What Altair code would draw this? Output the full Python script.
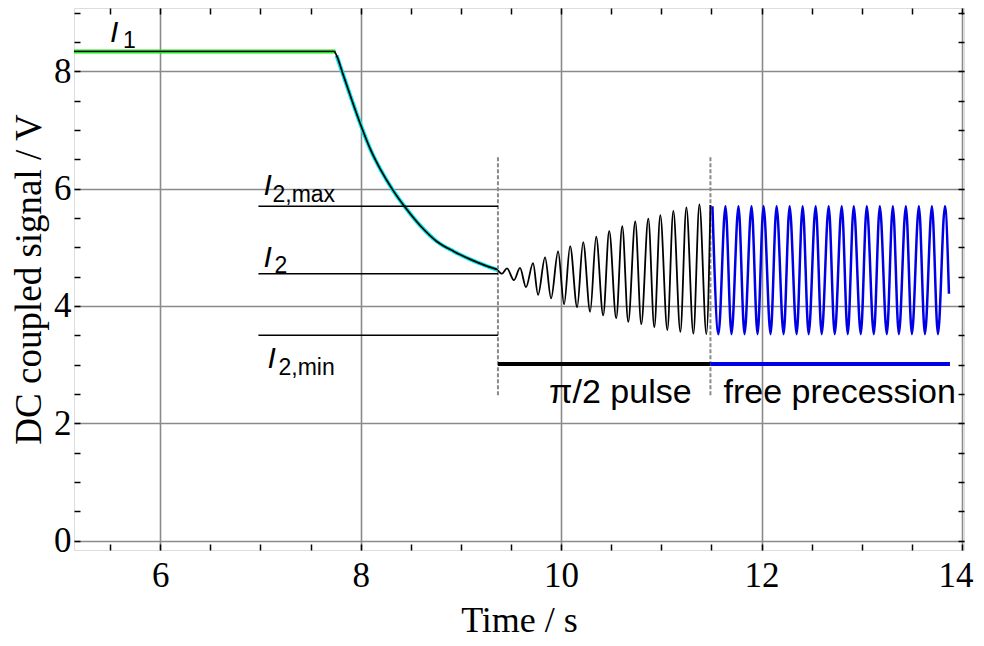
import altair as alt
import pandas as pd

# ---------------- data ----------------
# I1 plateau (black trace + green fit)
plateau_t = [5.14, 7.74]
plateau_v = [8.34, 8.34]
green_t = [5.14, 7.75]
green_v = [8.34, 8.34]

# exponential relaxation (black trace) and its cyan fit
decay_t = [7.74, 7.77, 7.82, 7.90, 8.00, 8.10, 8.20, 8.32, 8.45, 8.60, 8.76, 8.93, 9.10, 9.26, 9.37]
decay_v = [8.34, 8.23, 7.97, 7.57, 7.09, 6.66, 6.32, 5.98, 5.67, 5.36, 5.10, 4.93, 4.79, 4.68, 4.62]
fit_t = [7.76, 7.82, 7.90, 8.00, 8.10, 8.20, 8.32, 8.45, 8.60, 8.76, 8.93, 9.10, 9.26, 9.37]
fit_v = [8.27, 7.97, 7.57, 7.09, 6.66, 6.32, 5.98, 5.67, 5.36, 5.10, 4.93, 4.79, 4.68, 4.61]

# pi/2 pulse: extrema of the growing oscillation
pulse_t = [9.37, 9.41, 9.46, 9.53, 9.59, 9.65, 9.72, 9.77, 9.84, 9.90, 9.97, 10.03, 10.09,
           10.16, 10.22, 10.29, 10.35, 10.42, 10.48, 10.55, 10.61, 10.67, 10.74, 10.80,
           10.87, 10.93, 10.99, 11.06, 11.12, 11.19, 11.25, 11.32, 11.38, 11.45, 11.49]
pulse_v = [4.61, 4.55, 4.64, 4.44, 4.65, 4.32, 4.73, 4.19, 4.83, 4.13, 4.93, 4.03, 5.02,
           3.98, 5.09, 3.90, 5.18, 3.84, 5.28, 3.79, 5.36, 3.73, 5.44, 3.69, 5.49,
           3.64, 5.55, 3.59, 5.62, 3.56, 5.68, 3.53, 5.73, 3.52, 5.72]

# free precession: peaks and troughs
prec_peak_t = [11.51, 11.64, 11.77, 11.90, 12.02, 12.15, 12.28, 12.41, 12.54, 12.67,
               12.80, 12.92, 13.05, 13.18, 13.31, 13.44, 13.57, 13.70, 13.83]
prec_peak_v = [5.70] * 19
prec_trough_t = [11.57, 11.70, 11.83, 11.96, 12.09, 12.22, 12.35, 12.47, 12.60, 12.73,
                 12.86, 12.99, 13.12, 13.25, 13.37, 13.50, 13.63, 13.76]
prec_trough_v = [3.52] * 18
prec_end_t = 13.87
prec_end_v = 4.21

# reference levels I2,max / I2 / I2,min
level_v = [5.70, 4.55, 3.50]
level_start = 6.98
level_end = 9.37

# phase markers
marker_t = [9.37, 11.49]
marker_lo = 2.48
marker_hi = 6.54
phase_v = 3.01
pulse_bar_t = [9.37, 11.49]
prec_bar_t = [11.49, 13.88]

# annotation labels
main_lbl_text = ["I", "I", "I", "I"]
main_lbl_t = [5.50, 7.03, 7.03, 7.07]
main_lbl_v = [8.50, 5.89, 4.67, 2.94]
sub_lbl_text = ["1", "2,max", "2", "2,min"]
sub_lbl_t = [5.63, 7.12, 7.14, 7.18]
sub_lbl_v = [8.40, 5.78, 4.56, 2.82]
phase_text = ["π/2 pulse", "free precession"]
phase_text_t = [9.88, 11.62]
phase_text_v = [2.34, 2.34]

# axes
x_ticks = [6, 8, 10, 12, 14]
y_ticks = [0, 2, 4, 6, 8]
x_minor = [5.5 + 0.5 * i for i in range(18)]
y_minor = [0.5 * i for i in range(19)]
x_domain = [5.14, 14.02]
y_domain = [-0.16, 9.08]

# ---------------- tables ----------------
df_plateau = pd.DataFrame({"t": plateau_t, "v": plateau_v})
df_green = pd.DataFrame({"t": green_t, "v": green_v})
df_decay = pd.DataFrame({"t": decay_t, "v": decay_v})
df_fit = pd.DataFrame({"t": fit_t, "v": fit_v})
df_pulse = pd.DataFrame({"t": pulse_t, "v": pulse_v})
pts = sorted(list(zip(prec_peak_t, prec_peak_v)) + list(zip(prec_trough_t, prec_trough_v)))
pts.append((prec_end_t, prec_end_v))
df_prec = pd.DataFrame(pts, columns=["t", "v"])
df_levels = pd.DataFrame({"v": level_v, "t0": [level_start] * 3, "t1": [level_end] * 3})
df_markers = pd.DataFrame({"t": marker_t, "lo": [marker_lo] * 2, "hi": [marker_hi] * 2})
df_pbar = pd.DataFrame({"t0": [pulse_bar_t[0]], "t1": [pulse_bar_t[1]], "v": [phase_v]})
df_fbar = pd.DataFrame({"t0": [prec_bar_t[0]], "t1": [prec_bar_t[1]], "v": [phase_v]})
df_main_lbl = pd.DataFrame({"t": main_lbl_t, "v": main_lbl_v, "s": main_lbl_text})
df_sub_lbl = pd.DataFrame({"t": sub_lbl_t, "v": sub_lbl_v, "s": sub_lbl_text})
df_phase = pd.DataFrame({"t": phase_text_t, "v": phase_text_v, "s": phase_text})

# ---------------- styling ----------------
SERIF = "Liberation Serif"
SANS = "Liberation Sans"
GRID = "#8a8a8a"

xs = alt.Scale(domain=x_domain, nice=False, zero=False)
ys = alt.Scale(domain=y_domain, nice=False, zero=False)

main_x_axis = alt.Axis(values=x_ticks, grid=True, gridColor=GRID, gridWidth=1.6,
                       ticks=False, tickSize=0, domain=False,
                       labelFlush=3, labelFlushOffset=11,
                       labelFont=SERIF, labelFontSize=35, labelColor="black", labelPadding=8,
                       title="Time / s", titleFont=SERIF, titleFontSize=36,
                       titleFontWeight="normal", titleColor="black", titlePadding=10)
main_y_axis = alt.Axis(values=y_ticks, grid=True, gridColor=GRID, gridWidth=1.6,
                       ticks=False, tickSize=0, domain=False, labelFlush=False,
                       labelFont=SERIF, labelFontSize=35, labelColor="black", labelPadding=3,
                       title="DC coupled signal / V", titleFont=SERIF, titleFontSize=37,
                       titleFontWeight="normal", titleColor="black", titlePadding=5)


def minor_axis(orient, vals):
    return alt.Axis(orient=orient, offset=-6, values=vals, labels=False, domain=False,
                    grid=False, ticks=True, tickSize=6, tickWidth=1.5, tickColor="black",
                    title=None)


def X(axis=None, field="t"):
    return alt.X(f"{field}:Q", scale=xs, axis=axis)


def Y(axis=None, field="v"):
    return alt.Y(f"{field}:Q", scale=ys, axis=axis)


green = alt.Chart(df_green).mark_line(color="#22dd22", strokeWidth=4).encode(
    x=X(main_x_axis), y=Y(main_y_axis))
cyan = alt.Chart(df_fit).mark_line(color="#00e5e5", strokeWidth=4, interpolate="monotone").encode(
    x=X(minor_axis("top", x_minor)), y=Y(minor_axis("right", y_minor)))
plateau = alt.Chart(df_plateau).mark_line(color="black", strokeWidth=1.4).encode(
    x=X(minor_axis("bottom", x_minor)), y=Y(minor_axis("left", y_minor)))
decay = alt.Chart(df_decay).mark_line(color="black", strokeWidth=1.7, interpolate="monotone").encode(
    x=X(), y=Y())
pulse = alt.Chart(df_pulse).mark_line(color="black", strokeWidth=1.8, interpolate="monotone").encode(
    x=X(), y=Y())
prec = alt.Chart(df_prec).mark_line(color="#0000e6", strokeWidth=2.5, interpolate="monotone").encode(
    x=X(), y=Y())
levels = alt.Chart(df_levels).mark_rule(color="black", strokeWidth=1.5).encode(
    x=X(field="t0"), x2="t1:Q", y=Y())
markers = alt.Chart(df_markers).mark_rule(color=GRID, strokeWidth=2, strokeDash=[4, 2]).encode(
    x=X(), y=Y(field="lo"), y2="hi:Q")
pbar = alt.Chart(df_pbar).mark_rule(color="black", strokeWidth=4).encode(
    x=X(field="t0"), x2="t1:Q", y=Y())
fbar = alt.Chart(df_fbar).mark_rule(color="#0000e6", strokeWidth=4).encode(
    x=X(field="t0"), x2="t1:Q", y=Y())
main_lbl = alt.Chart(df_main_lbl).mark_text(
    align="left", baseline="alphabetic", font=SANS, fontSize=30, fontStyle="italic", color="black"
).encode(x=X(), y=Y(), text="s:N")
sub_lbl = alt.Chart(df_sub_lbl).mark_text(
    align="left", baseline="alphabetic", font=SANS, fontSize=23, color="black"
).encode(x=X(), y=Y(), text="s:N")
phase_lbl = alt.Chart(df_phase).mark_text(
    align="left", baseline="alphabetic", font=SANS, fontSize=34, color="black"
).encode(x=X(), y=Y(), text="s:N")

chart = alt.layer(
    green, cyan, plateau, decay, markers, levels, pulse, prec, pbar, fbar,
    main_lbl, sub_lbl, phase_lbl
).resolve_axis(x="independent", y="independent").properties(
    width=890, height=542,
    autosize=alt.AutoSizeParams(type="none"),
    padding={"left": 66, "top": 0, "right": 10, "bottom": 88},
).configure_view(stroke="black", strokeWidth=3).configure(background="white")

chart.save("out.html", embed_options={"renderer": "svg", "actions": False})
